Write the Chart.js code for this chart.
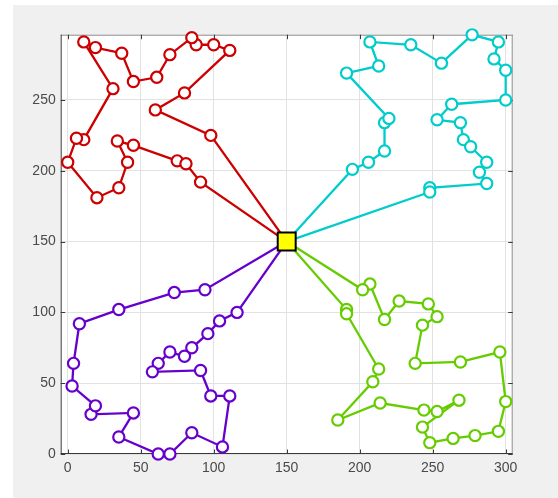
<!DOCTYPE html>
<html>
<head>
<meta charset="utf-8">
<script src="https://cdn.jsdelivr.net/npm/chart.js@4.4.1/dist/chart.umd.min.js"></script>
<style>
  html, body { margin: 0; padding: 0; background: #ffffff; }
  canvas { display: block; }
</style>
</head>
<body>
<canvas id="routes" width="558" height="498"></canvas>
<script>
// Depot location shared by every route
const depot = [150, 150];

// Route 1 (red) customer stops, in visiting order
const redX = [98, 60, 80, 111, 100, 88, 85, 70, 61, 45, 37, 19, 11, 31, 11, 6, 0, 20, 35, 41, 34, 45, 75, 81, 91];
const redY = [225, 243, 255, 285, 289, 289, 294, 282, 266, 263, 283, 287, 291, 258, 222, 223, 206, 181, 188, 206, 221, 218, 207, 205, 192];

// Route 2 (cyan)
const cyanX = [195, 206, 217, 217, 220, 191, 213, 207, 235, 256, 277, 295, 292, 300, 300, 263, 253, 269, 271, 276, 287, 282, 287, 248, 248];
const cyanY = [201, 206, 214, 234, 237, 269, 274, 291, 289, 276, 296, 291, 279, 271, 250, 247, 236, 234, 222, 217, 206, 199, 191, 188, 185];

// Route 3 (green)
const greenX = [191, 191, 213, 209, 185, 214, 244, 253, 268, 243, 248, 264, 279, 295, 300, 296, 269, 238, 243, 253, 247, 227, 217, 207, 202];
const greenY = [102, 99, 60, 51, 24, 36, 31, 30, 38, 19, 8, 11, 13, 16, 37, 72, 65, 64, 91, 97, 106, 108, 95, 120, 116];

// Route 4 (purple)
const purpleX = [116, 104, 96, 85, 80, 70, 62, 58, 91, 98, 111, 106, 85, 70, 62, 35, 45, 16, 19, 3, 4, 8, 35, 73, 94];
const purpleY = [100, 94, 85, 75, 69, 72, 64, 58, 59, 41, 41, 5, 15, 0, 0, 12, 29, 28, 34, 48, 64, 92, 102, 114, 116];

// Axis tick values
const xTicks = [0, 50, 100, 150, 200, 250, 300];
const yTicks = [0, 50, 100, 150, 200, 250];

// Plot box in canvas pixels
const BOX = { left: 60.7, top: 34.7, right: 512.7, bottom: 454 };
const AXIS_FONT = { family: '"Liberation Sans", Arial, sans-serif', size: 14 };

// Each tour starts and ends at the depot
function tour(xs, ys) {
  const pts = [{ x: depot[0], y: depot[1] }];
  xs.forEach((x, i) => pts.push({ x: x, y: ys[i] }));
  pts.push({ x: depot[0], y: depot[1] });
  return pts;
}

function routeDataset(xs, ys, color) {
  const pts = tour(xs, ys);
  return {
    data: pts,
    showLine: true,
    borderColor: color,
    borderWidth: 2.3,
    backgroundColor: '#ffffff',
    pointBackgroundColor: '#ffffff',
    pointBorderColor: color,
    pointBorderWidth: 2.2,
    pointRadius: ctx => (ctx.dataIndex === 0 || ctx.dataIndex === pts.length - 1) ? 0 : 5.6,
    pointHoverRadius: 5.6,
    tension: 0,
    clip: false,
    order: 1
  };
}

// Figure background, white axes area
const backdrop = {
  id: 'backdrop',
  beforeDraw(chart) {
    const c = chart.ctx;
    c.save();
    c.fillStyle = '#ffffff';
    c.fillRect(0, 0, chart.width, chart.height);
    c.fillStyle = '#f0f0f0';
    c.fillRect(13, 5, chart.width - 13, chart.height - 5);
    const a = chart.chartArea;
    c.fillStyle = '#ffffff';
    c.fillRect(a.left, a.top, a.right - a.left, a.bottom - a.top);
    c.restore();
  }
};

// Box outline with inward tick marks on all four sides
const axesBox = {
  id: 'axesBox',
  beforeDatasetsDraw(chart) {
    const c = chart.ctx;
    const a = chart.chartArea;
    const sx = chart.scales.x, sy = chart.scales.y;
    const tl = 4.5;
    c.save();
    c.lineWidth = 1;
    c.strokeStyle = '#8a8a8a';
    c.beginPath();
    c.moveTo(a.left, a.top + 0.5); c.lineTo(a.right, a.top + 0.5);
    c.moveTo(a.right - 0.5, a.top); c.lineTo(a.right - 0.5, a.bottom);
    c.stroke();
    c.strokeStyle = '#3a3a3a';
    c.beginPath();
    c.moveTo(a.left + 0.5, a.top); c.lineTo(a.left + 0.5, a.bottom);
    c.moveTo(a.left, a.bottom - 0.5); c.lineTo(a.right, a.bottom - 0.5);
    xTicks.forEach(v => {
      const px = Math.round(sx.getPixelForValue(v)) + 0.5;
      c.moveTo(px, a.bottom); c.lineTo(px, a.bottom - tl);
      c.moveTo(px, a.top); c.lineTo(px, a.top + tl);
    });
    yTicks.forEach(v => {
      const py = Math.round(sy.getPixelForValue(v)) + 0.5;
      c.moveTo(a.left, py); c.lineTo(a.left + tl, py);
      c.moveTo(a.right, py); c.lineTo(a.right - tl, py);
    });
    c.stroke();
    c.restore();
  }
};

new Chart(document.getElementById('routes'), {
  type: 'scatter',
  data: {
    datasets: [
      {
        data: [{ x: depot[0], y: depot[1] }],
        pointStyle: 'rect',
        pointRadius: 12.7,
        pointHoverRadius: 12.7,
        pointBackgroundColor: '#ffff00',
        pointBorderColor: '#000000',
        pointBorderWidth: 2,
        showLine: false,
        clip: false,
        order: 0
      },
      routeDataset(redX, redY, '#cc0000'),
      routeDataset(cyanX, cyanY, '#00cccc'),
      routeDataset(greenX, greenY, '#66cc00'),
      routeDataset(purpleX, purpleY, '#6600cc')
    ]
  },
  options: {
    responsive: false,
    animation: false,
    devicePixelRatio: 1,
    layout: {
      padding: { left: 0, top: BOX.top, right: 558 - BOX.right, bottom: 0 }
    },
    plugins: {
      legend: { display: false },
      tooltip: { enabled: false }
    },
    scales: {
      x: {
        type: 'linear',
        min: -4.8,
        max: 304.8,
        afterBuildTicks: s => { s.ticks = xTicks.map(v => ({ value: v })); },
        afterFit: s => { s.height = 498 - BOX.bottom; },
        grid: { color: '#e2e2e2', lineWidth: 1, drawTicks: false },
        border: { display: false },
        ticks: { color: '#4a4a4a', font: AXIS_FONT, padding: 6, maxRotation: 0, autoSkip: false }
      },
      y: {
        type: 'linear',
        min: 0,
        max: 296.1,
        afterBuildTicks: s => { s.ticks = yTicks.map(v => ({ value: v })); },
        afterFit: s => { s.width = BOX.left; },
        grid: { color: '#e2e2e2', lineWidth: 1, drawTicks: false },
        border: { display: false },
        ticks: { color: '#4a4a4a', font: AXIS_FONT, padding: 5, autoSkip: false }
      }
    }
  },
  plugins: [backdrop, axesBox]
});
</script>
</body>
</html>
